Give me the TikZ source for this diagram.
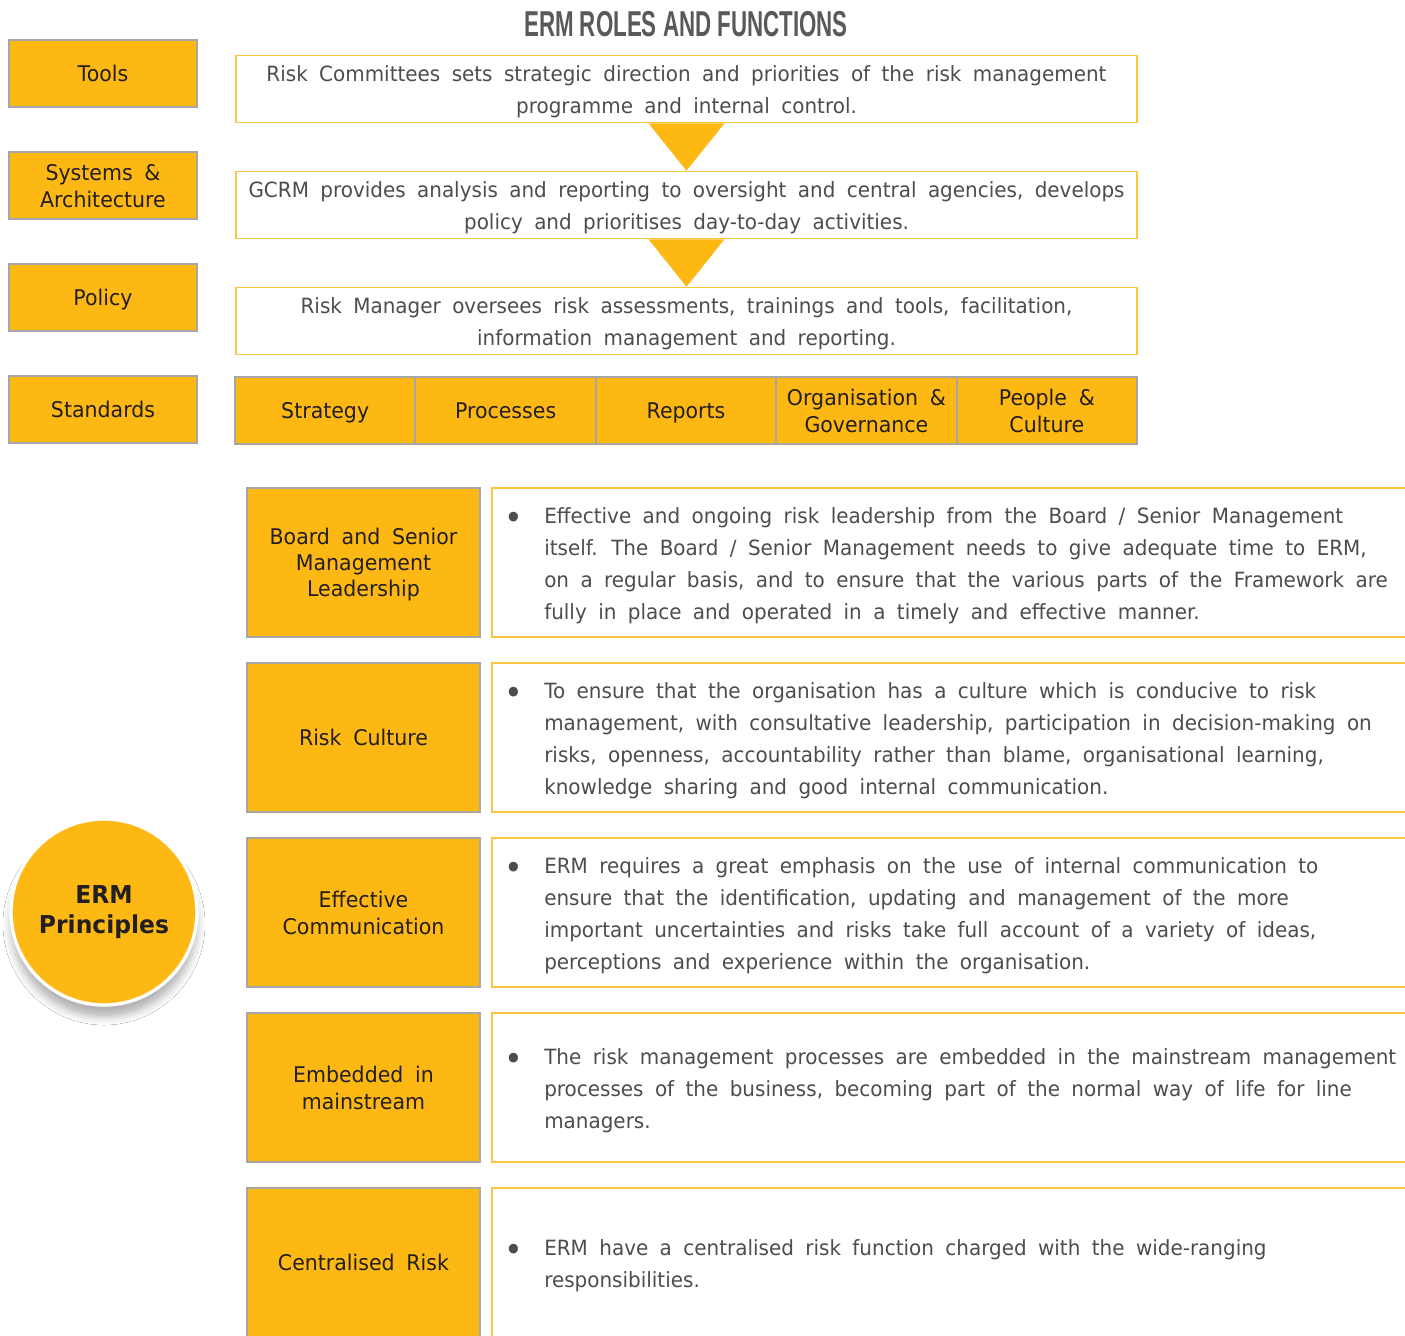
\documentclass[tikz,border=0pt]{standalone}
\usepackage{fontspec}
\setmainfont[FakeStretch=0.95,WordSpace=1.8]{DejaVu Sans}
\newfontfamily\titlefont[FakeStretch=0.62]{Liberation Sans}
\usetikzlibrary{positioning,calc,shadows.blur}
\definecolor{ermgold}{HTML}{FDB813}
\definecolor{ermline}{HTML}{FCC63F}
\definecolor{edgegray}{HTML}{A7A7A7}
\definecolor{titlegray}{HTML}{58595B}
\definecolor{bodygray}{HTML}{4D4D4D}
\definecolor{inkdark}{HTML}{231F20}
% strut that sits the text a little lower in its box
\newcommand\lowstrut{\rule[\dimexpr-0.3\baselineskip+2.25pt\relax]{0pt}{\dimexpr0.7\baselineskip+6pt\relax}}
\tikzset{tag/.style={draw=edgegray,line width=1.5pt,fill=ermgold,align=center,inner sep=0,text=inkdark,font=\fontsize{16.2}{19.5}\selectfont},
  note/.style={draw=ermline,line width=1.2pt,fill=white,inner sep=0},
  body/.style={text=bodygray,inner sep=0,font=\fontsize{15.75}{24}\selectfont}}

\begin{document}
\begin{tikzpicture}[x=0.75pt,y=-0.75pt]
\clip (0,0) rectangle (1405,1335);
\fill[white] (0,0) rectangle (1405,1335);
\node[text=titlegray,font=\fontsize{27}{30}\selectfont\titlefont\bfseries] (title) at (686,24) {ERM ROLES AND FUNCTIONS};
% left column
\foreach \lab [count=\i] in {Tools,{Systems \&\\Architecture},Policy,Standards}
  \node[tag,minimum width=141pt,minimum height=50.25pt] (side\i) at (103,{73.5+112*(\i-1)}) {\lowstrut\lab\lowstrut};
% roles
\node[note,body,align=center,minimum width=675.75pt,minimum height=50.25pt] (role1) at (686.5,89)
  {\lowstrut Risk Committees sets strategic direction and priorities of the risk management\\programme and internal control.\lowstrut};
\node[note,body,align=center,minimum width=675.75pt,minimum height=50.25pt] (role2) at (686.5,205)
  {\lowstrut GCRM provides analysis and reporting to oversight and central agencies, develops\\policy and prioritises day-to-day activities.\lowstrut};
\node[note,body,align=center,minimum width=675.75pt,minimum height=50.25pt] (role3) at (686.5,321)
  {\lowstrut Risk Manager oversees risk assessments, trainings and tools, facilitation,\\information management and reporting.\lowstrut};
\fill[ermgold] ($(role1.south)+(-38,0)$) -- ($(role1.south)+(38,0)$) -- (role2.north) -- cycle;
\fill[ermgold] ($(role2.south)+(-38,0)$) -- ($(role2.south)+(38,0)$) -- (role3.north) -- cycle;
\foreach \lab [count=\i] in {Strategy,Processes,Reports,{Organisation \&\\Governance},{People \&\\Culture}}
  \node[tag,minimum width=135.3pt,minimum height=50.25pt] (area\i) at ({235+180.4*(\i-0.5)},410.5) {\lowstrut\lab\lowstrut};
% principles
\foreach \k/\lab/\txt in {
  0/{Board and Senior\\Management\\Leadership}/{Effective and ongoing risk leadership from the Board / Senior Management\\itself. The Board / Senior Management needs to give adequate time to ERM,\\on a regular basis, and to ensure that the various parts of the Framework are\\fully in place and operated in a timely and effective manner.},
  1/{Risk Culture}/{To ensure that the organisation has a culture which is conducive to risk\\management, with consultative leadership, participation in decision-making on\\risks, openness, accountability rather than blame, organisational learning,\\knowledge sharing and good internal communication.},
  2/{Effective\\Communication}/{ERM requires a great emphasis on the use of internal communication to\\ensure that the identification, updating and management of the more\\important uncertainties and risks take full account of a variety of ideas,\\perceptions and experience within the organisation.},
  3/{Embedded in\\mainstream}/{The risk management processes are embedded in the mainstream management\\processes of the business, becoming part of the normal way of life for line\\managers.},
  4/{Centralised Risk}/{ERM have a centralised risk function charged with the wide-ranging\\responsibilities.}}{
  \node[tag,minimum width=174.75pt,minimum height=111.75pt] (prin\k) at (363.5,{562.5+175*\k}) {\lowstrut\lab\lowstrut};
  \node[note,minimum width=697.5pt,minimum height=111.75pt,anchor=west] (desc\k) at (491,{562.5+175*\k}) {};
  \node[body,align=left,anchor=west] (txt\k) at ($(desc\k.west)+(53,0)$) {\lowstrut\txt\lowstrut};
  \node[body,anchor=north west] (dot\k) at ($(txt\k.north west)+(-40,6)$) {\lowstrut{\fontsize{25}{24}\selectfont•}};
}
\node[circle,fill=ermgold,draw=white,line width=2.5pt,minimum size=139.5pt,text=inkdark,align=center,
  font=\fontsize{18.5}{22.5}\selectfont\bfseries,
  blur shadow={shadow xshift=0pt,shadow yshift=-9pt,shadow blur radius=6pt,shadow opacity=30}] (erm) at (104,912) {ERM\\Principles};
\end{tikzpicture}
\end{document}
